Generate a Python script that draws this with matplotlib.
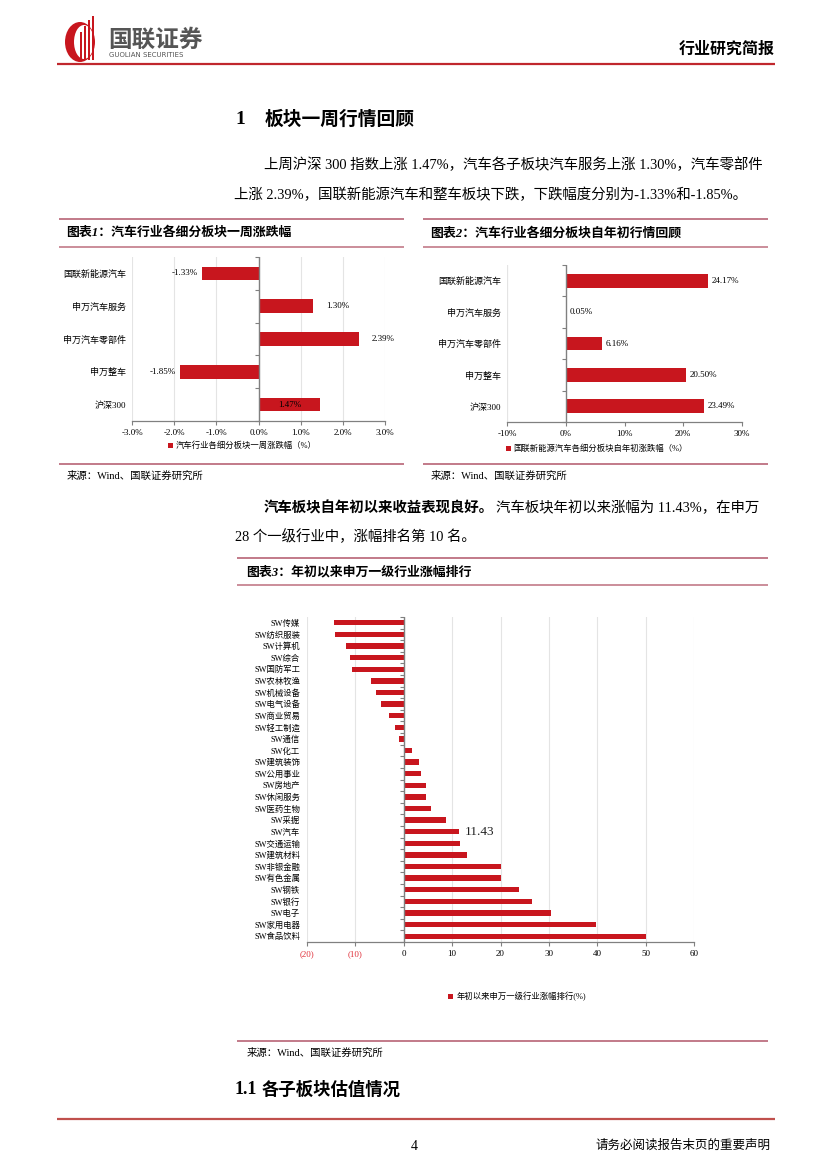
import numpy as np
import matplotlib.pyplot as plt
from matplotlib.patches import Rectangle, Ellipse

plt.rcParams['font.family'] = ['Liberation Serif', 'Noto Sans CJK SC']
plt.rcParams['axes.unicode_minus'] = False

# --- data ---
week_cats = ['国联新能源汽车', '申万汽车服务', '申万汽车零部件', '申万整车', '沪深300']
week_vals = [-1.33, 1.30, 2.39, -1.85, 1.47]

ytd_cats = ['国联新能源汽车', '申万汽车服务', '申万汽车零部件', '申万整车', '沪深300']
ytd_vals = [24.17, 0.05, 6.16, 20.50, 23.49]

sw_cats = ['SW传媒', 'SW纺织服装', 'SW计算机', 'SW综合', 'SW国防军工', 'SW农林牧渔',
           'SW机械设备', 'SW电气设备', 'SW商业贸易', 'SW轻工制造', 'SW通信', 'SW化工',
           'SW建筑装饰', 'SW公用事业', 'SW房地产', 'SW休闲服务', 'SW医药生物', 'SW采掘',
           'SW汽车', 'SW交通运输', 'SW建筑材料', 'SW非银金融', 'SW有色金属', 'SW钢铁',
           'SW银行', 'SW电子', 'SW家用电器', 'SW食品饮料']
sw_vals = [-14.4, -14.3, -12.0, -11.2, -10.6, -6.8, -5.8, -4.6, -3.1, -1.9, -1.0, 1.8,
           3.2, 3.6, 4.5, 4.5, 5.7, 8.7, 11.43, 11.6, 13.1, 20.1, 20.0, 23.9,
           26.5, 30.4, 39.7, 50.0]
sw_ticks = [-20, -10, 0, 10, 20, 30, 40, 50, 60]
sw_ticklabels = ['(20)', '(10)', '0', '10', '20', '30', '40', '50', '60']

RED = '#C8161E'
PINK = '#C27A89'
GRID = '#E4E4E4'
AX = '#808080'
W, H = 827, 1169
BODY = 10.4

fig = plt.figure(figsize=(W / 100, H / 100), dpi=100)
page = fig.add_axes([0, 0, 1, 1])
page.set_xlim(0, W)
page.set_ylim(H, 0)
page.axis('off')


def box(x0, y0, x1, y1):
    # pixel box (top-left origin) -> figure fraction rect
    return [x0 / W, 1 - y1 / H, (x1 - x0) / W, (y1 - y0) / H]


def hline(x0, x1, y, color, lw):
    page.plot([x0, x1], [y, y], color=color, lw=lw, solid_capstyle='butt')


# --- header ---
page.add_patch(Ellipse((80, 42), 30, 40, facecolor=RED, edgecolor='none'))
page.add_patch(Ellipse((84, 42), 20, 34, facecolor='white', edgecolor='none'))
for xx, top in [(80, 32), (84, 26), (88, 20), (92, 16)]:
    page.add_patch(Rectangle((xx, top), 2.2, 60 - top, facecolor=RED, edgecolor='none'))
page.text(108, 40, '国联证券', fontsize=17, fontweight='bold', color='#555555',
          family=['Noto Sans CJK SC'], va='center')
page.text(109, 55, 'GUOLIAN SECURITIES', fontsize=5, color='#555555',
          family=['DejaVu Sans'], va='center')
page.text(775, 50, '行业研究简报', fontsize=11.5, fontweight='bold', ha='right', va='center')
hline(57, 775, 64, '#C0272D', 1.6)

# --- section text ---
page.text(235, 120, '1', fontsize=14, fontweight='bold', va='center')
page.text(265, 120, '板块一周行情回顾', fontsize=13.5, fontweight='bold', va='center')
page.text(264, 165, '上周沪深 300 指数上涨 1.47%，汽车各子板块汽车服务上涨 1.30%，汽车零部件',
          fontsize=BODY, va='center')
page.text(234, 195, '上涨 2.39%，国联新能源汽车和整车板块下跌，下跌幅度分别为-1.33%和-1.85%。',
          fontsize=BODY, va='center')

# chart frames
for x0, x1, title in [(59, 404, '图表1：汽车行业各细分板块一周涨跌幅'),
                      (423, 768, '图表2：汽车行业各细分板块自年初行情回顾')]:
    hline(x0, x1, 219, PINK, 1.4)
    hline(x0, x1, 247, PINK, 1.2)
    hline(x0, x1, 464, PINK, 1.4)
    page.text(x0 + 7, 233, title, fontsize=9.3, fontweight='bold', style='italic', va='center')
    page.text(x0 + 8, 476, '来源：Wind、国联证券研究所', fontsize=7.5, va='center')

page.text(264, 508, '汽车板块自年初以来收益表现良好。', fontsize=BODY, fontweight='bold',
          va='center')
page.text(496, 508, '汽车板块年初以来涨幅为 11.43%，在申万', fontsize=BODY, va='center')
page.text(235, 537, '28 个一级行业中，涨幅排名第 10 名。', fontsize=BODY, va='center')

hline(237, 768, 558, PINK, 1.4)
hline(237, 768, 585, PINK, 1.2)
hline(237, 768, 1041, PINK, 1.4)
page.text(246, 572, '图表3：年初以来申万一级行业涨幅排行', fontsize=9.3, fontweight='bold',
          style='italic', va='center')
page.text(247, 1053, '来源：Wind、国联证券研究所', fontsize=7.5, va='center')

page.text(235, 1090, '1.1', fontsize=13, fontweight='bold', va='center')
page.text(262, 1090, '各子板块估值情况', fontsize=12.5, fontweight='bold', va='center')
hline(57, 775, 1119, '#C0504D', 1.6)
page.text(414, 1146, '4', fontsize=10, ha='center', va='center')
page.text(770, 1146, '请务必阅读报告末页的重要声明', fontsize=9, ha='right', va='center')


def category_bars(ax, cats, vals, xlim, ticks, bar_h, ticklabels):
    n = len(cats)
    y = np.arange(n)
    bars = ax.barh(y, vals, height=bar_h, color=RED, zorder=3)
    ax.set_ylim(n - 0.5, -0.5)
    ax.set_xlim(*xlim)
    ax.set_xticks(ticks)
    ax.set_xticklabels(ticklabels)
    ax.set_yticks(y)
    ax.set_yticklabels(cats)
    ax.tick_params(axis='y', length=0, pad=4)
    ax.tick_params(axis='x', length=3, color=AX, width=0.8, pad=3)
    for s in ['top', 'right', 'left']:
        ax.spines[s].set_visible(False)
    ax.spines['bottom'].set_color(AX)
    ax.spines['bottom'].set_linewidth(0.9)
    ax.xaxis.grid(True, color=GRID, lw=0.8, zorder=0)
    ax.set_axisbelow(True)
    ax.axvline(0, color=AX, lw=1.0, zorder=4)
    ax.plot([0] * (n + 1), np.arange(n + 1) - 0.5, ls='none', marker=0, ms=3,
            mew=0.8, color=AX, zorder=4, clip_on=False)
    return bars


# --- chart 1 ---
ax1 = fig.add_axes(box(132, 257, 385, 421))
pct1 = ['%.1f%%' % t for t in np.arange(-3, 4)]
b1 = category_bars(ax1, week_cats, week_vals, (-3, 3), np.arange(-3, 4), 0.42, pct1)
ax1.tick_params(axis='x', labelsize=6.5)
ax1.tick_params(axis='y', labelsize=6.5)
for i, v in enumerate(week_vals):
    if i == 4:
        ax1.text(v / 2, i, '%.2f%%' % v, fontsize=6.5, ha='center', va='center', zorder=5)
    elif v < 0:
        ax1.text(v - 0.12, i, '%.2f%%' % v, fontsize=6.5, ha='right', va='center')
    else:
        ax1.text(v + 0.3, i, '%.2f%%' % v, fontsize=6.5, ha='left', va='center')
fig.legend([b1], ['汽车行业各细分板块一周涨跌幅（%）'], loc='center',
           bbox_to_anchor=(242 / W, 1 - 446 / H), frameon=False, fontsize=6,
           handlelength=0.6, handleheight=0.6, handletextpad=0.3)

# --- chart 2 ---
ax2 = fig.add_axes(box(507, 265, 742, 422))
b2 = category_bars(ax2, ytd_cats, ytd_vals, (-10, 30), [-10, 0, 10, 20, 30], 0.44,
                   ['-10%', '0%', '10%', '20%', '30%'])
ax2.xaxis.grid(False)
ax2.axvline(-10, color=GRID, lw=0.9)
ax2.tick_params(axis='x', labelsize=6.5)
ax2.tick_params(axis='y', labelsize=6.5)
for i, v in enumerate(ytd_vals):
    ax2.text(v + 0.6, i, '%.2f%%' % v, fontsize=6.5, ha='left', va='center', zorder=5)
fig.legend([b2], ['国联新能源汽车各细分板块自年初涨跌幅（%）'], loc='center',
           bbox_to_anchor=(597 / W, 1 - 449 / H), frameon=False, fontsize=6,
           handlelength=0.6, handleheight=0.6, handletextpad=0.3)

# --- chart 3 ---
ax3 = fig.add_axes(box(307, 617, 694, 942))
b3 = category_bars(ax3, sw_cats, sw_vals, (-20, 60), sw_ticks, 0.46, sw_ticklabels)
ax3.tick_params(axis='x', labelsize=6.5)
ax3.tick_params(axis='y', labelsize=6, pad=5)
for lab in ax3.get_xticklabels():
    if lab.get_text().startswith('('):
        lab.set_color('#E0303A')
car = sw_cats.index('SW汽车')
ax3.text(sw_vals[car] + 1.2, car, '%.2f' % sw_vals[car], fontsize=9.5, ha='left',
         va='center', color='#222222')
fig.legend([b3], ['年初以来申万一级行业涨幅排行(%)'], loc='center',
           bbox_to_anchor=(517 / W, 1 - 997 / H), frameon=False, fontsize=6,
           handlelength=0.6, handleheight=0.6, handletextpad=0.4)

fig.savefig('out.png', dpi=100)
